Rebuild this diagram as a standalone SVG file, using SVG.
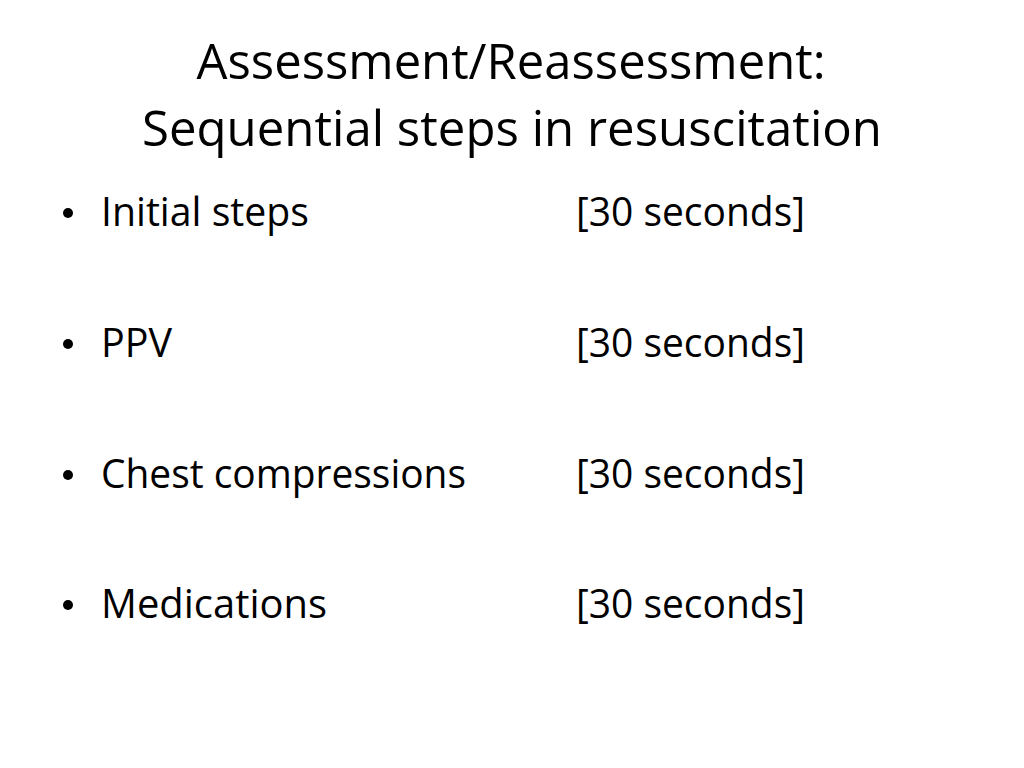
<svg xmlns="http://www.w3.org/2000/svg" width="1024" height="768" viewBox="0 0 1024 768">
<style>
.t{font-family:"Open Sans","Noto Sans",sans-serif;fill:#000}
.title{font-size:50px}
.b{font-size:40px}
</style>
<rect width="1024" height="768" fill="#fff"/>
<g id="title">
<text class="t title" x="511" y="79" text-anchor="middle" textLength="629" lengthAdjust="spacingAndGlyphs">Assessment/Reassessment:</text>
<text class="t title" x="512" y="146" text-anchor="middle" textLength="740" lengthAdjust="spacingAndGlyphs">Sequential steps in resuscitation</text>
</g>
<g id="item1">
<circle cx="68" cy="213" r="5"/>
<text class="t b" x="101" y="226" textLength="208" lengthAdjust="spacingAndGlyphs">Initial steps</text>
<text class="t b" x="576" y="226" textLength="229" lengthAdjust="spacingAndGlyphs">[30 seconds]</text>
</g>
<g id="item2">
<circle cx="68" cy="344" r="5"/>
<text class="t b" x="101" y="357" textLength="71" lengthAdjust="spacingAndGlyphs">PPV</text>
<text class="t b" x="576" y="357" textLength="229" lengthAdjust="spacingAndGlyphs">[30 seconds]</text>
</g>
<g id="item3">
<circle cx="68" cy="475" r="5"/>
<text class="t b" x="101" y="488" textLength="365" lengthAdjust="spacingAndGlyphs">Chest compressions</text>
<text class="t b" x="576" y="488" textLength="229" lengthAdjust="spacingAndGlyphs">[30 seconds]</text>
</g>
<g id="item4">
<circle cx="68" cy="605" r="5"/>
<text class="t b" x="101" y="618" textLength="226" lengthAdjust="spacingAndGlyphs">Medications</text>
<text class="t b" x="576" y="618" textLength="229" lengthAdjust="spacingAndGlyphs">[30 seconds]</text>
</g>
</svg>
